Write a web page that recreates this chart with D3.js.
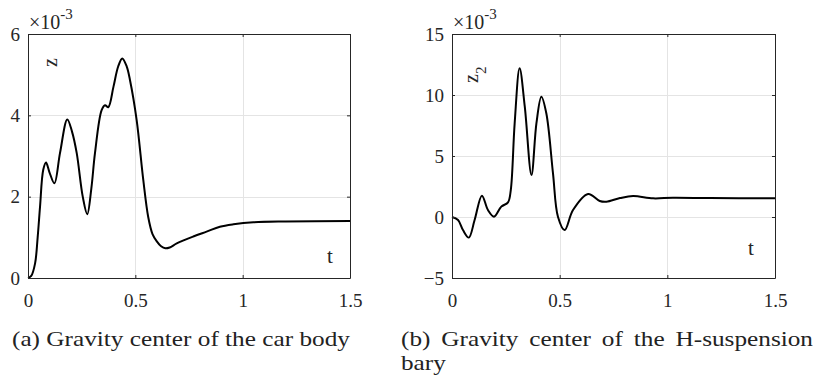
<!DOCTYPE html>
<html>
<head>
<meta charset="utf-8">
<script src="https://cdn.jsdelivr.net/npm/d3@7"></script>
<style>
  body { margin: 0; background: #fff; }
  svg { display: block; }
</style>
</head>
<body>
<svg></svg>
<script>
// data (z values in units of 1e-3)

const tA = [0, 0.015, 0.033, 0.045, 0.056, 0.071, 0.084, 0.1, 0.123, 0.149, 0.183, 0.205, 0.227, 0.255, 0.276,
  0.295, 0.312, 0.343, 0.359, 0.374, 0.398, 0.42, 0.439, 0.46, 0.475, 0.506, 0.537, 0.56, 0.58, 0.6, 0.62,
  0.64, 0.66, 0.693, 0.77, 0.832, 0.894, 0.957, 1.05, 1.2, 1.5];
const zA = [0, 0.05, 0.36, 1.0, 1.75, 2.66, 2.84, 2.6, 2.33, 3.07, 3.9, 3.6, 3.07, 2.0, 1.57,
  2.2, 3.07, 4.13, 4.25, 4.2, 4.7, 5.2, 5.4, 5.2, 4.87, 3.89, 2.41, 1.5, 1.08, 0.9, 0.78,
  0.73, 0.75, 0.85, 1.02, 1.14, 1.26, 1.32, 1.37, 1.39, 1.4];

const tB = [0, 0.028, 0.051, 0.078, 0.105, 0.139, 0.167, 0.195, 0.229, 0.26, 0.273, 0.291, 0.314, 0.338, 0.369,
  0.392, 0.415, 0.438, 0.469, 0.492, 0.523, 0.562, 0.632, 0.686, 0.717, 0.78, 0.841, 0.934, 1.026, 1.2, 1.5];
const zB = [0, -0.25, -1.07, -1.69, -0.25, 1.75, 0.57, 0.03, 0.85, 1.2, 2.21, 7.68, 12.19, 9.04, 3.44,
  7.68, 9.86, 8.5, 3.58, 0.02, -1.07, 0.57, 1.89, 1.31, 1.25, 1.55, 1.72, 1.53, 1.58, 1.55, 1.53];

const xTicks = [0, 0.5, 1, 1.5];
const yTicksA = [0, 2, 4, 6];
const yTicksB = [-5, 0, 5, 10, 15];

const captionA = '(a) Gravity center of the car body';
const captionB1 = ['(b)', 'Gravity', 'center', 'of', 'the', 'H-suspension'];
const captionB2 = 'bary';


// root svg

const W = 819, H = 378;
const svg = d3.select('svg')
  .attr('width', W)
  .attr('height', H)
  .style('background', '#fff');

const font = "'Liberation Serif', 'Times New Roman', serif";
const axisColor = '#262626';

const panels = [
  { x0: 28, x1: 350, t: tA, z: zA, yDomain: [0, 6], yTicks: yTicksA, ylab: 'z', sub: '',
    labPos: [57, 67], tPos: [330, 263] },
  { x0: 452, x1: 775, t: tB, z: zB, yDomain: [-5, 15], yTicks: yTicksB, ylab: 'z', sub: '2',
    labPos: [478, 83], tPos: [751, 255] }
];
const y0 = 34, y1 = 278;

panels.forEach(p => {
  const x = d3.scaleLinear().domain([0, 1.5]).range([p.x0, p.x1]);
  const y = d3.scaleLinear().domain(p.yDomain).range([y1, y0]);

  const g = svg.append('g');

  // grid
  g.append('g').selectAll('line')
    .data(xTicks.slice(1, -1))
    .join('line')
      .attr('x1', d => Math.round(x(d)) + 0.5).attr('x2', d => Math.round(x(d)) + 0.5)
      .attr('y1', y0).attr('y2', y1)
      .attr('stroke', '#e4e4e4');
  g.append('g').selectAll('line')
    .data(p.yTicks.slice(1, -1))
    .join('line')
      .attr('y1', d => Math.round(y(d)) + 0.5).attr('y2', d => Math.round(y(d)) + 0.5)
      .attr('x1', p.x0).attr('x2', p.x1)
      .attr('stroke', '#e4e4e4');

  // curve
  const line = d3.line()
    .x((d, i) => x(p.t[i]))
    .y(d => y(d))
    .curve(d3.curveCatmullRom.alpha(0.5));

  g.append('path')
    .attr('d', line(p.z))
    .attr('fill', 'none')
    .attr('stroke', '#000')
    .attr('stroke-width', 2)
    .attr('stroke-linejoin', 'round');

  // axes, ticks pointing inward on all four sides
  const axes = [
    { ax: d3.axisBottom(x).tickValues(xTicks).tickFormat(d3.format('')), tr: `translate(0,${y1})` },
    { ax: d3.axisTop(x).tickValues(xTicks).tickFormat(''), tr: `translate(0,${y0})` },
    { ax: d3.axisLeft(y).tickValues(p.yTicks).tickFormat(d3.format('')), tr: `translate(${p.x0},0)` },
    { ax: d3.axisRight(y).tickValues(p.yTicks).tickFormat(''), tr: `translate(${p.x1},0)` }
  ];

  axes.forEach((a, i) => {
    a.ax.tickSizeInner(-3).tickSizeOuter(0).tickPadding(i === 0 ? 16 : 8);
    const ag = g.append('g')
      .attr('transform', a.tr)
      .call(a.ax);
    ag.select('.domain').attr('stroke', axisColor);
    ag.selectAll('.tick line').attr('stroke', axisColor);
    ag.selectAll('.tick text')
      .style('font-family', font)
      .style('font-size', '19px')
      .attr('fill', axisColor);
  });

  // x10^-3 exponent
  const ex = g.append('text')
    .attr('x', p.x0 + 1)
    .attr('y', 29)
    .style('font-family', font)
    .style('font-size', '20px')
    .attr('fill', axisColor);
  ex.append('tspan').text('\u00d710');
  ex.append('tspan').text('-3').attr('dy', -10).style('font-size', '15px');

  // rotated y label
  const yl = g.append('text')
    .attr('transform', `translate(${p.labPos[0]},${p.labPos[1]}) rotate(-90)`)
    .style('font-family', font)
    .style('font-size', '20px')
    .attr('fill', axisColor);
  yl.append('tspan').text(p.ylab);
  if (p.sub) yl.append('tspan').text(p.sub).attr('dy', 8).style('font-size', '15px');

  // t label
  g.append('text')
    .attr('x', p.tPos[0])
    .attr('y', p.tPos[1])
    .attr('text-anchor', 'middle')
    .style('font-family', font)
    .style('font-size', '21px')
    .attr('fill', axisColor)
    .text('t');
});


// captions

const capA = svg.append('g');
const capAText = capA.append('text')
  .style('font-family', font)
  .style('font-size', '21px')
  .attr('fill', '#222')
  .text(captionA);
const k = 338 / capAText.node().getComputedTextLength();
capA.attr('transform', `translate(12,346) scale(${k},1)`);

const capB = svg.append('g')
  .attr('transform', `translate(401,346) scale(${k},1)`);
const capBText = capB.append('text')
  .style('font-family', font)
  .style('font-size', '21px')
  .attr('fill', '#222');
const words = captionB1.map(w => capBText.append('tspan').text(w));
const widths = words.map(w => w.node().getComputedTextLength());
const lineW = (813 - 401) / k;
const gap = (lineW - d3.sum(widths)) / (words.length - 1);
let cx = 0;
words.forEach((w, i) => {
  w.attr('x', cx);
  cx += widths[i] + gap;
});

capB.append('text')
  .attr('y', 24)
  .style('font-family', font)
  .style('font-size', '21px')
  .attr('fill', '#222')
  .text(captionB2);
</script>
</body>
</html>
